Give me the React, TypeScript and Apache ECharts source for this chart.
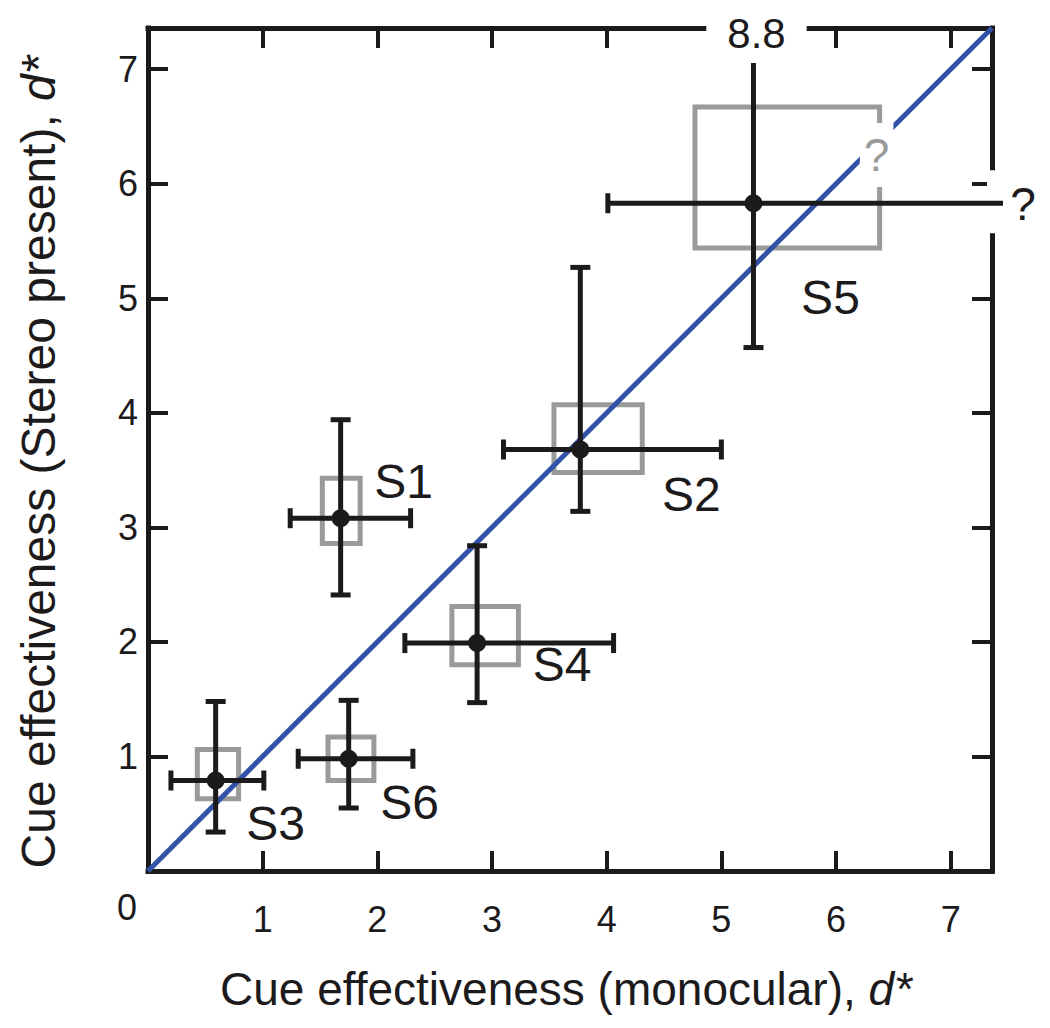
import React, { useEffect, useRef } from 'react';
import * as echarts from 'echarts';

// ---- data ----
const subjects = ['S1', 'S2', 'S3', 'S4', 'S5', 'S6'];
const monoMean = [1.68, 3.77, 0.59, 2.87, 5.28, 1.75];
const stereoMean = [3.08, 3.68, 0.79, 1.99, 5.83, 0.98];
const monoLow = [1.24, 3.1, 0.2, 2.24, 4.01, 1.31];
const monoHigh: (number | null)[] = [2.29, 5.0, 1.01, 4.06, null, 2.31]; // null = unknown ("?")
const stereoLow = [2.41, 3.14, 0.34, 1.47, 4.57, 0.55];
const stereoHigh = [3.94, 5.27, 1.48, 2.84, 8.8, 1.49];
const boxMonoLow = [1.52, 3.54, 0.43, 2.65, 4.77, 1.57];
const boxMonoHigh = [1.85, 4.31, 0.79, 3.23, 6.38, 1.97];
const boxStereoLow = [2.86, 3.48, 0.63, 1.8, 5.44, 0.79];
const boxStereoHigh = [3.43, 4.07, 1.06, 2.31, 6.67, 1.17];
const boxUnknownHigh = [false, false, false, false, true, false];
const tickValues = [1, 2, 3, 4, 5, 6, 7];
const zeroLabel = '0';
const xTitle = 'Cue effectiveness (monocular), ';
const yTitle = 'Cue effectiveness (Stereo present), ';
const titleItalic = 'd*';

// ---- styles ----
const AXIS_MAX = 7.36;
const BLACK = '#1c1a1b';
const GRAY = '#9a9a9a';
const BLUE = '#3153a6';
const FONT = '"Liberation Sans", Arial, Helvetica, sans-serif';
// label offsets in pixels relative to each point
const labelOffsets: [number, number][] = [
  [63, -37],
  [111, 45],
  [60, 43],
  [85, 21],
  [77, 94],
  [61, 44],
];

export default function App() {
  const ref = useRef<HTMLDivElement>(null);
  useEffect(() => {
    if (!ref.current) return;
    const chart = echarts.init(ref.current, undefined, { renderer: 'svg' });

    const axisCommon: any = {
      type: 'value',
      min: 0,
      max: AXIS_MAX,
      axisLine: { show: true, onZero: false, lineStyle: { color: BLACK, width: 5, cap: 'square' } },
      axisTick: { show: true, inside: true, length: 20, customValues: tickValues, lineStyle: { color: BLACK, width: 4 } },
      axisLabel: { show: false },
      splitLine: { show: false },
    };

    const pts = subjects.map((_, i) => [monoMean[i], stereoMean[i]]);

    const boxSeries: any = {
      type: 'custom',
      z: 2,
      silent: true,
      data: pts,
      renderItem: (params: any, api: any) => {
        const i = params.dataIndex;
        const p1 = api.coord([boxMonoLow[i], boxStereoHigh[i]]);
        const p2 = api.coord([boxMonoHigh[i], boxStereoLow[i]]);
        return {
          type: 'rect',
          shape: { x: p1[0], y: p1[1], width: p2[0] - p1[0], height: p2[1] - p1[1] },
          style: { fill: 'none', stroke: GRAY, lineWidth: 5 },
        };
      },
    };

    const barSeries: any = {
      type: 'custom',
      z: 4,
      silent: true,
      clip: false,
      data: pts,
      renderItem: (params: any, api: any) => {
        const i = params.dataIndex;
        const c = api.coord([monoMean[i], stereoMean[i]]);
        const topPx = api.coord([0, AXIS_MAX])[1];
        const rightPx = api.coord([AXIS_MAX, 0])[0];
        const children: any[] = [];
        const cap = 10;
        const ls = { stroke: BLACK, lineWidth: 5 };

        // gray "?" on the box for unknown upper bound
        if (boxUnknownHigh[i]) {
          const bt = api.coord([boxMonoHigh[i], boxStereoHigh[i]]);
          children.push({
            type: 'text',
            style: {
              text: '?', x: bt[0] - 3, y: bt[1] + 48, align: 'center', verticalAlign: 'middle',
              fill: GRAY, font: `46px ${FONT}`, backgroundColor: '#ffffff', padding: [10, 4, 8, 4],
            },
          });
        }

        // horizontal bar
        const xl = api.coord([monoLow[i], stereoMean[i]])[0];
        let xr: number;
        const mh = monoHigh[i];
        if (mh === null) {
          xr = rightPx + 11;
          children.push({ type: 'rect', shape: { x: rightPx - 5, y: c[1] - 33, width: 12, height: 63 }, style: { fill: '#ffffff' } });
          children.push({
            type: 'text',
            style: { text: '?', x: xr + 20, y: c[1] + 1, align: 'center', verticalAlign: 'middle', fill: BLACK, font: `46px ${FONT}` },
          });
        } else {
          xr = api.coord([mh, stereoMean[i]])[0];
          children.push({ type: 'line', shape: { x1: xr, y1: c[1] - cap, x2: xr, y2: c[1] + cap }, style: ls });
        }
        children.push({ type: 'line', shape: { x1: xl, y1: c[1] - cap, x2: xl, y2: c[1] + cap }, style: ls });
        children.push({ type: 'line', shape: { x1: xl, y1: c[1], x2: xr, y2: c[1] }, style: ls });

        // vertical bar
        const yb = api.coord([monoMean[i], stereoLow[i]])[1];
        let yt: number;
        if (stereoHigh[i] > AXIS_MAX) {
          yt = topPx + 35;
          children.push({
            type: 'text',
            style: {
              text: String(stereoHigh[i]), x: c[0] + 3, y: topPx + 5, align: 'center', verticalAlign: 'middle',
              fill: BLACK, font: `42px ${FONT}`, backgroundColor: '#ffffff', padding: [0, 21, 0, 21],
            },
          });
        } else {
          yt = api.coord([monoMean[i], stereoHigh[i]])[1];
          children.push({ type: 'line', shape: { x1: c[0] - cap, y1: yt, x2: c[0] + cap, y2: yt }, style: ls });
        }
        children.push({ type: 'line', shape: { x1: c[0] - cap, y1: yb, x2: c[0] + cap, y2: yb }, style: ls });
        children.push({ type: 'line', shape: { x1: c[0], y1: yt, x2: c[0], y2: yb }, style: ls });

        // dot
        children.push({ type: 'circle', shape: { cx: c[0], cy: c[1], r: 9 }, style: { fill: BLACK } });

        // subject label
        const off = labelOffsets[i];
        children.push({
          type: 'text',
          style: {
            text: subjects[i], x: c[0] + off[0], y: c[1] + off[1], align: 'center', verticalAlign: 'middle',
            fill: BLACK, font: `48px ${FONT}`,
          },
        });
        return { type: 'group', children };
      },
    };

    chart.setOption({
      animation: false,
      grid: { left: 148, right: 58, top: 28, bottom: 157, containLabel: false },
      xAxis: [
        {
          ...axisCommon,
          position: 'bottom',
          axisLabel: { show: true, customValues: tickValues, fontSize: 36, color: BLACK, fontFamily: FONT, margin: 30 },
        },
        { ...axisCommon, position: 'top' },
      ],
      yAxis: [
        {
          ...axisCommon,
          position: 'left',
          axisLabel: { show: true, customValues: tickValues, fontSize: 36, color: BLACK, fontFamily: FONT, margin: 10 },
        },
        { ...axisCommon, position: 'right' },
      ],
      series: [
        boxSeries,
        {
          type: 'line',
          z: 3,
          silent: true,
          symbol: 'none',
          data: [[0, 0], [AXIS_MAX, AXIS_MAX]],
          lineStyle: { color: BLUE, width: 5 },
        },
        barSeries,
      ],
      graphic: [
        {
          type: 'text',
          x: 127,
          y: 907,
          style: { text: zeroLabel, fill: BLACK, font: `36px ${FONT}`, align: 'center', verticalAlign: 'middle' },
        },
        {
          type: 'text',
          x: 566,
          y: 989,
          style: {
            text: `{n|${xTitle}}{i|${titleItalic}}`,
            align: 'center',
            verticalAlign: 'middle',
            rich: {
              n: { fontSize: 46, fontFamily: FONT, fill: BLACK, color: BLACK },
              i: { fontSize: 46, fontFamily: FONT, fontStyle: 'italic', fill: BLACK, color: BLACK },
            },
          },
        },
        {
          type: 'text',
          x: 38,
          y: 462,
          rotation: Math.PI / 2,
          style: {
            text: `{n|${yTitle}}{i|${titleItalic}}`,
            align: 'center',
            verticalAlign: 'middle',
            rich: {
              n: { fontSize: 48, fontFamily: FONT, fill: BLACK, color: BLACK },
              i: { fontSize: 48, fontFamily: FONT, fontStyle: 'italic', fill: BLACK, color: BLACK },
            },
          },
        },
      ],
    });
    return () => chart.dispose();
  }, []);
  return <div ref={ref} style={{ position: 'fixed', left: 0, top: 0, width: 1050, height: 1028, background: '#fff' }} />;
}
